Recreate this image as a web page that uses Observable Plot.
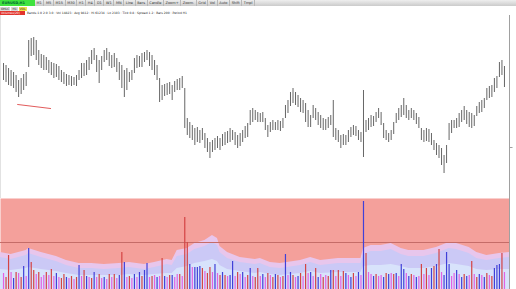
<!DOCTYPE html>
<html><head><meta charset="utf-8">
<script src="https://cdn.jsdelivr.net/npm/d3@7"></script>
<script src="https://cdn.jsdelivr.net/npm/@observablehq/plot@0.6"></script>
<style>
html,body{margin:0;padding:0;background:#fff;}
body{width:516px;height:289px;overflow:hidden;position:relative;font-family:"DejaVu Sans",sans-serif;}
#h1{position:absolute;left:0;top:0;width:516px;height:6px;background:linear-gradient(#eeeeee,#cbcbcb);display:flex;font-size:3.5px;line-height:6px;white-space:nowrap;}
#h1 .g{width:35px;height:6px;background:#3fe23f;color:#063;font-weight:bold;padding-left:2px;box-sizing:border-box;}
#h1 .tb{padding:0 1.6px;border-right:1px solid #b8b8b8;color:#333;}
#h2{position:absolute;left:0;top:7px;height:4px;display:flex;font-size:3px;line-height:4px;white-space:nowrap;}
#h2 span{padding:0 1px;background:#d9d9d9;color:#222;margin-right:1px;}
#h2 span.y{background:#f4e24a;}
#h3{position:absolute;left:0;top:11px;height:4px;display:flex;font-size:3px;line-height:4px;white-space:nowrap;}
#h3 .r{width:25px;background:#e2342c;color:#fff;padding-left:1px;box-sizing:border-box;}
#h3 .t{color:#222;padding-left:2px;}
#top{position:absolute;left:0;top:15px;}
#vol{position:absolute;left:0;top:198px;}
</style></head>
<body>
<div id="h1"><div class="g">EURUSD,H1</div><span class="tb">M1</span><span class="tb">M5</span><span class="tb">M15</span><span class="tb">M30</span><span class="tb">H1</span><span class="tb">H4</span><span class="tb">D1</span><span class="tb">W1</span><span class="tb">MN</span><span class="tb">Line</span><span class="tb">Bars</span><span class="tb">Candle</span><span class="tb">Zoom+</span><span class="tb">Zoom-</span><span class="tb">Grid</span><span class="tb">Vol</span><span class="tb">Auto</span><span class="tb">Shift</span><span class="tb">Tmpl</span></div>
<div id="h2"><span>OHLC</span><span>H1</span><span class="y">VOL</span></div>
<div id="h3"><div class="r">Volumes(20)</div><div class="t">Bands 1.0 2.0 3.0 · Vol 14823 · Avg 9412 · Hi 61234 · Lo 2103 · Tick 0.8 · Spread 1.2 · Bars 200 · Period H1</div></div>
<div id="top"></div>
<div id="vol"></div>
<script>
// price bars (arbitrary price units)
const highs = [137,135,132,130,128,125,120,122,126,128,
160,162,163,160,150,146,145,143,140,138,
137,136,134,130,128,126,125,124,123,125,
130,137,137,140,143,150,152,145,140,144,
150,152,148,145,147,142,138,135,130,132,
128,130,142,145,144,147,148,150,148,145,
140,135,122,115,116,117,118,115,119,121,
122,124,112,82,78,75,72,73,70,72,
67,62,58,60,62,64,62,66,68,69,
72,70,68,65,67,70,74,77,90,92,
90,88,87,88,82,75,78,80,78,80,
79,82,95,100,108,112,108,105,102,100,
97,90,85,95,92,88,85,82,81,83,
85,100,72,70,65,66,65,70,73,75,
74,70,68,110,80,82,85,84,88,92,
88,77,70,67,70,78,87,92,95,102,
95,90,92,90,87,83,72,70,72,71,
67,60,57,55,52,45,55,77,80,80,
82,87,90,94,90,88,87,85,94,98,
100,102,112,114,115,122,124,138,140,134];
const lows = [120,118,115,114,112,108,103,106,110,114,
133,144,145,140,135,132,130,130,127,125,
122,123,120,118,116,114,115,114,115,114,
120,122,124,125,130,136,140,128,117,130,
138,140,134,132,133,128,120,112,103,110,
118,120,127,132,133,133,138,140,134,130,
125,120,98,100,104,105,106,100,108,110,
110,112,72,65,62,60,55,58,57,60,
52,48,42,48,50,52,50,54,55,57,
58,60,55,52,54,58,62,63,75,78,
80,78,78,78,70,63,68,70,70,70,
69,72,82,87,94,97,95,93,88,87,
78,73,73,82,80,75,72,70,70,72,
75,63,60,58,52,55,55,58,63,65,
64,60,58,43,68,70,73,74,78,82,
75,62,60,58,60,66,77,80,83,85,
82,80,82,80,76,72,60,58,59,58,
55,50,45,42,35,27,37,60,67,72,
72,73,78,80,76,73,72,74,84,87,
88,92,100,102,103,108,112,123,125,113];
// trend line drawn on the price panel
const trendIdx = [5.6, 18.7];
const trendPrice = [96, 92];
// volume bars
const volumes = [16,12,34,17,11,17,16,12,23,13,
41,27,19,15,17,12,14,17,14,20,
13,16,12,11,15,12,11,13,10,12,
24,13,19,13,12,11,17,12,15,11,
12,10,15,12,15,11,14,37,27,12,
13,11,15,12,17,13,19,26,12,13,
14,12,13,31,13,12,14,14,12,15,
15,13,72,47,25,22,22,22,23,21,
18,16,22,17,25,16,14,17,14,13,
14,28,13,17,15,17,12,14,21,13,
12,21,13,15,12,16,14,12,15,14,
12,13,35,14,17,14,12,13,16,13,
25,16,17,13,21,12,15,12,14,13,
19,19,13,19,13,18,16,14,12,16,
13,17,14,88,36,17,15,13,15,13,
14,12,16,15,16,15,16,13,25,20,
16,13,15,14,12,13,25,15,21,14,
21,23,25,40,17,14,37,25,13,16,
19,15,12,15,13,14,28,15,12,15,
14,12,16,14,13,21,24,25,36,17];
const volKinds = "mrrmbrmrbm"+"brrmrmmrmr"+"mbmrrbmrmr"+"bmrbmrbmrm"+"bmrmrmbrbm"+
"rmbmbrbbmr"+"mbmrbmrbmm"+"rmrrbmbbbr"+"mrrmbmrbrm"+"bbmrmbmrbm"+
"rrmbmrmrbr"+"mrbmbrmbrm"+"rmbmrbmrmr"+"brmrmrbmbr"+"mbmbrmmbrm"+
"mbrbmrbmbb"+"mbrmbmrmrm"+"brbrmbbbmm"+"bmbrbmrmrb"+"mbrmrbbbrm";
// volume bands (sampled by bar index)
const bandIdx = [-1.2,3,9,10,15,21,25,30,35,40,46,50,56,60,65,67,69,73,76,80,83,85,86,89,94,100,102,106,110,118,122,126,133,141,142,143,146,150,154,158,161,167,172,177,180,185,188,192,197,201];
const bandOuter = [37,35,39,41,37,33,29,26,26,25,26,27,25,27,30,29,39,41,46,49,54,51,43,37,32,30,31,27,26,29,32,29,31,31,31,41,44,44,46,41,39,39,42,47,46,42,37,34,36,37];
const bandMid = [32,30,34,36,32,28,24,21,21,20,21,22,20,22,25,24,33,35,40,43,47,44,37,31,27,25,26,22,21,24,27,24,26,26,26,35,38,38,40,35,33,33,36,41,40,36,31,29,31,32];
const bandInner = [20,19,21,22,20,18,16,14,14,14,14,15,14,15,16,16,21,23,26,28,30,28,24,20,18,16,17,15,14,16,18,16,17,17,17,23,24,24,25,23,21,21,23,26,25,23,20,19,20,20];
const levelLine = [47];
const axisTick = [53];

const xDomain = [-1.2, 201];
const bars = highs.map((h, i) => ({i, hi: h, lo: lows[i]}));
const trend = trendIdx.map((t, k) => ({i: t, p: trendPrice[k]}));
const vb = volumes.map((v, i) => ({i, v, k: volKinds[i]}));
const bands = bandIdx.map((t, k) => ({i: t, o: bandOuter[k], m: bandMid[k], n: bandInner[k]}));

const topChart = Plot.plot({
  width: 516, height: 183, margin: 0, marginRight: 7,
  x: {domain: xDomain, axis: null},
  y: {domain: [2, 185], axis: null},
  style: {background: "#fff", overflow: "visible"},
  marks: [
    Plot.ruleX([xDomain[0]], {stroke: "#e2e2e2"}),
    Plot.ruleX([201], {stroke: "#a0a0a0"}),
    Plot.ruleY(axisTick, {x1: 201, x2: 202.4, stroke: "#a0a0a0"}),
    Plot.ruleX(bars, {x: "i", y1: "lo", y2: "hi", stroke: "#555", strokeWidth: 0.9}),
    Plot.line(trend, {x: "i", y: "p", stroke: "#e25b5b", strokeWidth: 1})
  ]
});
document.getElementById("top").appendChild(topChart);

const colors = {b: "#4040d8", r: "#d44444", m: "#e262e2"};
const volChart = Plot.plot({
  width: 516, height: 91, margin: 0, marginRight: 7,
  x: {domain: xDomain, axis: null},
  y: {domain: [0, 91], axis: null},
  style: {background: "#fff", overflow: "visible"},
  marks: [
    Plot.frame({fill: "#f4a09b", stroke: null}),
    Plot.areaY(bands, {x: "i", y: "o", fill: "#e8c6ec"}),
    Plot.areaY(bands, {x: "i", y: "m", fill: "#cbc9f6"}),
    Plot.areaY(bands, {x: "i", y: "n", fill: "#d8e3fb"}),
    Plot.ruleY(levelLine, {stroke: "#c56c68"}),
    ...["m", "r", "b"].map(k => Plot.ruleX(vb.filter(d => d.k === k), {x: "i", y1: 0, y2: "v", stroke: colors[k], strokeWidth: 1.2})),
    Plot.ruleX([201], {stroke: "#a0a0a0"})
  ]
});
document.getElementById("vol").appendChild(volChart);
</script>
</body></html>
